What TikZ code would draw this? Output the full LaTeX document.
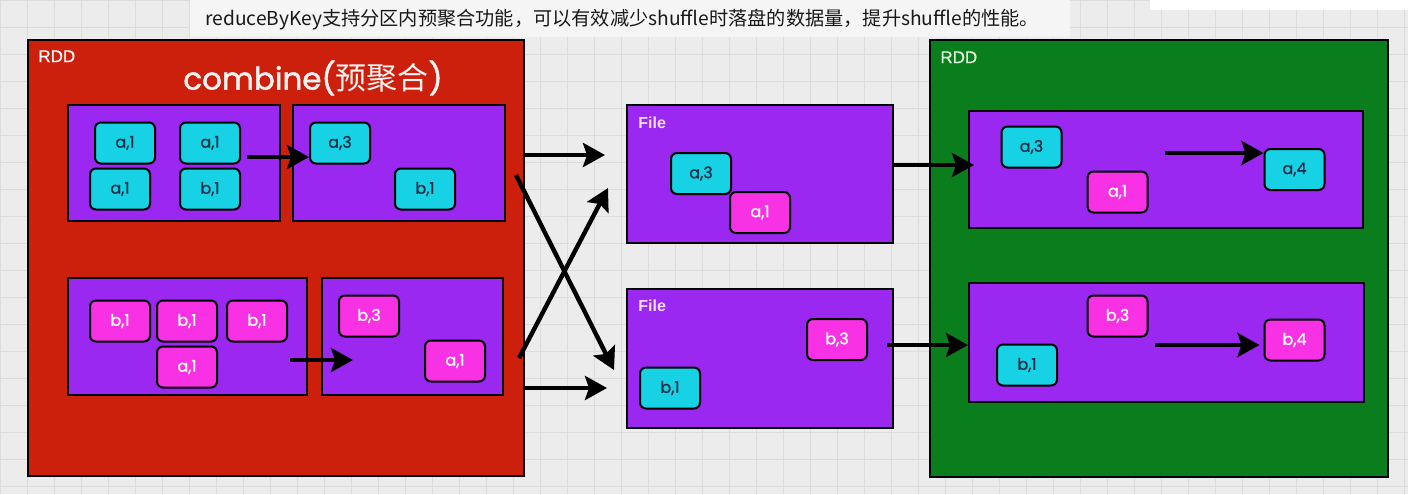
\documentclass[tikz,border=0pt]{standalone}
\usepackage{fontspec}
\setmainfont{Liberation Sans}
\newfontfamily\popfont[FakeBold=1.2]{Poppins}
\newfontfamily\combfont[FakeBold=1.5]{Poppins}
\newfontfamily\cjkfont{Noto Sans CJK SC}
\newfontfamily\labfont[FakeBold=0.6]{Liberation Sans}
\usetikzlibrary{arrows.meta,calc}
\definecolor{bgc}{HTML}{ECECEC}
\definecolor{gridc}{HTML}{DCDCDC}
\definecolor{redc}{HTML}{CC200C}
\definecolor{greenc}{HTML}{0A7D1C}
\definecolor{purc}{HTML}{9B28F0}
\definecolor{cyanc}{HTML}{16D2E4}
\definecolor{pinkc}{HTML}{F832E4}
\definecolor{cytext}{HTML}{1A3048}
\definecolor{filec}{HTML}{F2DCFF}
\tikzset{
  big/.style={draw=black, line width=1pt, inner sep=0pt},
  part/.style={big, fill=purc},
  kv/.style={draw=black, line width=1pt, rounded corners=3pt, minimum width=30pt, minimum height=20.5pt, inner sep=0pt, font=\popfont\fontsize{8}{8}\selectfont},
  cy/.style={kv, fill=cyanc, text=cytext},
  pk/.style={kv, fill=pinkc, text=white},
  arr/.style={line width=2.2pt, -{Stealth[length=11pt,width=12pt,inset=2pt]}},
  lab/.style={anchor=north west, inner sep=0pt, font=\labfont\fontsize{8.5}{8.5}\selectfont, text=white},
}
\begin{document}
\begin{tikzpicture}[x=0.5pt,y=-0.5pt]
\useasboundingbox (0,0) rectangle (1408,494);
\fill[bgc] (0,0) rectangle (1408,494);
\draw[gridc, line width=0.4pt, step=13.5pt] (0,0) grid (1408,494);
\fill[white] (1150,0) rectangle (1408,10);
\fill[black!4] (190,0) rectangle (1070,37);
\node[inner sep=0pt, anchor=west, text=black!90, font=\cjkfont\fontsize{9.6}{10}\selectfont] (title) at (205,20) {reduceByKey支持分区内预聚合功能，可以有效减少shuffle时落盘的数据量，提升shuffle的性能。};

% containers
\node[big, fill=redc, minimum width=248pt, minimum height=218pt] (rdd1) at (276,258) {};
\node[big, fill=greenc, minimum width=229pt, minimum height=218.5pt] (rdd2) at (1159,258.5) {};
\node[lab] (rddl1) at (38,50) {RDD};
\node[lab, text=white!88!green] (rddl2) at (940,51) {RDD};
\node[inner sep=0pt, text=white!95!red, font=\combfont\fontsize{15.5}{16}\selectfont] (comb) at (313,78) {combine(\cjkfont 预聚合\combfont)};

\node[part, minimum width=106pt, minimum height=58pt] (p1) at (174,163) {};
\node[part, minimum width=106pt, minimum height=58pt] (p2) at (399,163) {};
\node[part, minimum width=119.5pt, minimum height=58.5pt] (p3) at (187.5,336.5) {};
\node[part, minimum width=90.5pt, minimum height=58.5pt] (p4) at (412.5,336.5) {};
\node[part, minimum width=133pt, minimum height=69pt] (f1) at (760,174) {};
\node[part, minimum width=133pt, minimum height=69.5pt] (f2) at (760,358.5) {};
\node[part, minimum width=197pt, minimum height=58.5pt] (g1) at (1166,169.5) {};
\node[part, minimum width=197.5pt, minimum height=59.5pt] (g2) at (1166.5,342.5) {};
\node[lab, text=filec, font=\bfseries\fontsize{8}{8}\selectfont] (fl1) at (638,116) {File};
\node[lab, text=filec, font=\bfseries\fontsize{8}{8}\selectfont] (fl2) at (638,299) {File};

% key-value boxes
\node[cy] (a11) at (125,143) {a,1};
\node[cy] (a12) at (210,143) {a,1};
\node[cy] (a13) at (120,189) {a,1};
\node[cy] (b11) at (210,189) {b,1};
\node[cy] (a31) at (340,143) {a,3};
\node[cy] (b12) at (425,189) {b,1};

\node[pk] (b21) at (120,321) {b,1};
\node[pk] (b22) at (187,321) {b,1};
\node[pk] (b23) at (257,321) {b,1};
\node[pk] (a21) at (187,367) {a,1};
\node[pk] (b31) at (369,316) {b,3};
\node[pk] (a22) at (455,361) {a,1};

\node[cy] (fa3) at (701,173.5) {a,3};
\node[pk] (fa1) at (760,212.5) {a,1};
\node[pk] (fb3) at (837,339.5) {b,3};
\node[cy] (fb1) at (670,388) {b,1};

\node[cy] (ga3) at (1031.5,147) {a,3};
\node[pk] (ga1) at (1117.5,192) {a,1};
\node[cy] (ga4) at (1294.5,169.5) {a,4};
\node[pk] (gb3) at (1117.5,316) {b,3};
\node[cy] (gb1) at (1027,365) {b,1};
\node[pk] (gb4) at (1294.5,340) {b,4};

% arrows
\coordinate (s1) at (247,157);
\coordinate (s2) at (290,360);
\coordinate (t2) at (353,360);
\draw[arr] (s1) -- (s1 -| a31.west);
\draw[arr] (s2) -- (t2);
\coordinate (o1) at (525,155);
\coordinate (o2) at (516,175);
\coordinate (o3) at (519,358);
\coordinate (o4) at (525,388);
\coordinate (e2) at (614,370);
\coordinate (e3) at (608,188);
\draw[arr, shorten >=10.5pt] (o1) -- (o1 -| f1.west);
\draw[arr] (o2) -- (e2);
\draw[arr] (o3) -- (e3);
\draw[arr, shorten >=9.5pt] (o4) -- (o4 -| f2.west);
\coordinate (q1) at (893,165);
\coordinate (q2) at (887,345);
\draw[arr] (q1) -- ($(q1 -| g1.west)+(6,0)$);
\draw[arr] (q2) -- (q2 -| g2.west);
\coordinate (r1) at (1165,153);
\coordinate (r2) at (1155,345);
\draw[arr] (r1) -- (r1 -| ga4.west);
\draw[arr] (r2) -- ($(r2 -| gb4.west)+(-4,0)$);
\end{tikzpicture}
\end{document}
